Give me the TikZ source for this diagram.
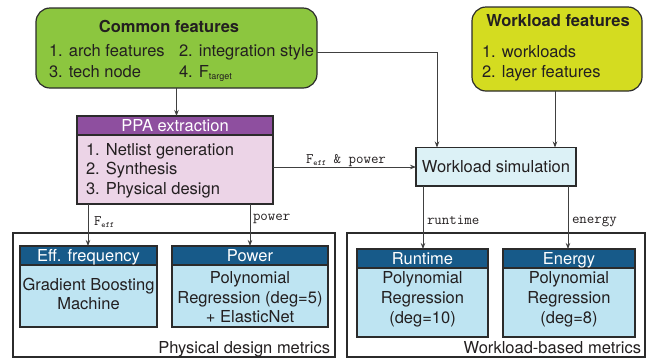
\documentclass[tikz,border=0pt]{standalone}
\usepackage{fontspec}
\setmainfont{TeX Gyre Heros}
\usetikzlibrary{arrows.meta}
\definecolor{cfgreen}{HTML}{8CC63F}
\definecolor{wfyellow}{HTML}{D4DC20}
\definecolor{ppahead}{HTML}{8E4F9F}
\definecolor{ppabody}{HTML}{ECD4E7}
\definecolor{simfill}{HTML}{DCF1F6}
\definecolor{mhead}{HTML}{175A89}
\definecolor{mbody}{HTML}{BEE4F2}
\definecolor{boxline}{HTML}{2B2B2B}
\definecolor{txt}{HTML}{231F20}
\definecolor{arrline}{HTML}{404040}
\begin{document}
\begin{tikzpicture}[x=1pt,y=-1pt,
  every node/.style={inner sep=0pt, outer sep=0pt, text=txt},
  box/.style={draw=boxline, line width=1.2pt},
  frame/.style={draw=boxline, line width=1.2pt},
  txtf/.style={font=\fontsize{16.5}{19}\selectfont},
  boldf/.style={font=\bfseries\fontsize{16.5}{19}\selectfont},
  headt/.style={font=\fontsize{16.5}{19}\selectfont, text=white},
  lbl/.style={font=\ttfamily\fontsize{14.5}{16}\selectfont},
  arr/.style={draw=arrline, line width=0.8pt, -{Stealth[length=6pt,width=4.5pt]}}
]
\useasboundingbox (0,0) rectangle (651,360);

% Common features
\node[box, fill=cfgreen, rounded corners=14pt, minimum width=281pt, minimum height=80pt] (common) at (176.5,48) {};
\node[boldf, anchor=base] (cft) at (169,32) {Common features};
\node[txtf, anchor=base west] (cf1) at (49,56) {1. arch features};
\node[txtf, anchor=base west] (cf2) at (179,56) {2. integration style};
\node[txtf, anchor=base west] (cf3) at (49,77) {3. tech node};
\node[txtf, anchor=base west] (cf4) at (179,77) {4. F\raisebox{-2pt}{\fontsize{9}{9}\selectfont target}};

% Workload features
\node[box, fill=wfyellow, rounded corners=14pt, minimum width=170pt, minimum height=84pt] (wfeat) at (557,49) {};
\node[boldf, anchor=base] (wft) at (558,26) {Workload features};
\node[txtf, anchor=base west] (wf1) at (482,57) {1. workloads};
\node[txtf, anchor=base west] (wf2) at (482,77) {2. layer features};

% PPA extraction
\node[box, fill=ppabody, minimum width=196pt, minimum height=69pt] (ppab) at (175,169.5) {};
\node[box, fill=ppahead, minimum width=196pt, minimum height=19pt] (ppah) at (175,125.5) {};
\node[headt, anchor=base] (ppat) at (175,131.5) {PPA extraction};
\node[txtf, anchor=base west] (pp1) at (86,155) {1. Netlist generation};
\node[txtf, anchor=base west] (pp2) at (86,174) {2. Synthesis};
\node[txtf, anchor=base west] (pp3) at (86,194) {3. Physical design};

% Workload simulation
\node[box, fill=simfill, minimum width=160pt, minimum height=38.5pt] (wsim) at (496,166.75) {};
\node[txtf, anchor=base] (wsimt) at (496,172) {Workload simulation};

% Physical design metrics
\node[frame, minimum width=322pt, minimum height=124pt] (pdm) at (174,295) {};
\node[txtf, anchor=base east] (pdmt) at (330,353) {Physical design metrics};

\node[box, fill=mbody, minimum width=137pt, minimum height=62pt] (effb) at (88.5,296) {};
\node[box, fill=mhead, minimum width=137pt, minimum height=19pt] (effh) at (88.5,255.5) {};
\node[headt, anchor=base] (efft) at (88.5,261) {Eff. frequency};
\node[txtf, anchor=base] (eff1) at (88.5,290) {Gradient Boosting};
\node[txtf, anchor=base] (eff2) at (88.5,309) {Machine};

\node[box, fill=mbody, minimum width=156pt, minimum height=62pt] (powb) at (250,296) {};
\node[box, fill=mhead, minimum width=156pt, minimum height=19pt] (powh) at (250,255.5) {};
\node[headt, anchor=base] (powt) at (250,261) {Power};
\node[txtf, anchor=base] (pow1) at (250,283) {Polynomial};
\node[txtf, anchor=base] (pow2) at (250,303) {Regression (deg=5)};
\node[txtf, anchor=base] (pow3) at (250,322) {+ ElasticNet};

% Workload-based metrics
\node[frame, minimum width=298pt, minimum height=124pt] (wbm) at (496,295) {};
\node[txtf, anchor=base east] (wbmt) at (641,353) {Workload-based metrics};

\node[box, fill=mbody, minimum width=131pt, minimum height=69pt] (runb) at (422.5,302.5) {};
\node[box, fill=mhead, minimum width=131pt, minimum height=19pt] (runh) at (422.5,258.5) {};
\node[headt, anchor=base] (runt) at (422.5,264) {Runtime};
\node[txtf, anchor=base] (run1) at (422.5,283) {Polynomial};
\node[txtf, anchor=base] (run2) at (422.5,303) {Regression};
\node[txtf, anchor=base] (run3) at (422.5,323) {(deg=10)};

\node[box, fill=mbody, minimum width=132pt, minimum height=69pt] (enb) at (569,302.5) {};
\node[box, fill=mhead, minimum width=132pt, minimum height=19pt] (enh) at (569,258.5) {};
\node[headt, anchor=base] (ent) at (569,264) {Energy};
\node[txtf, anchor=base] (en1) at (569,283) {Polynomial};
\node[txtf, anchor=base] (en2) at (569,303) {Regression};
\node[txtf, anchor=base] (en3) at (569,323) {(deg=8)};

% Connectors
\draw[arr] (common.south) -- (ppah.north -| common.south);
\draw[arr] (common.east |- 0,52) -| (wsim.north -| 437,0);
\draw[arr] (wfeat.south -| 555,0) -- (wsim.north -| 555,0);
\draw[arr] (ppab.east |- 0,167) -- (wsim.west |- 0,167);
\node[lbl, anchor=base west] (lfp) at (306,163) {F\raisebox{-2pt}{\fontsize{8}{8}\selectfont eff} \& power};
\draw[arr] (ppab.south -| 88,0) -- (effh.north -| 88,0);
\node[lbl, anchor=base west] (lf) at (94,225) {F\raisebox{-2pt}{\fontsize{8}{8}\selectfont eff}};
\draw[arr] (ppab.south -| 250,0) -- (powh.north -| 250,0);
\node[lbl, anchor=base west] (lp) at (253,220) {power};
\draw[arr] (wsim.south -| 423,0) -- (runh.north -| 423,0);
\node[lbl, anchor=base west] (lr) at (427,224) {runtime};
\draw[arr] (wsim.south -| 568,0) -- (enh.north -| 568,0);
\node[lbl, anchor=base west] (le) at (572,223) {energy};
\end{tikzpicture}
\end{document}
